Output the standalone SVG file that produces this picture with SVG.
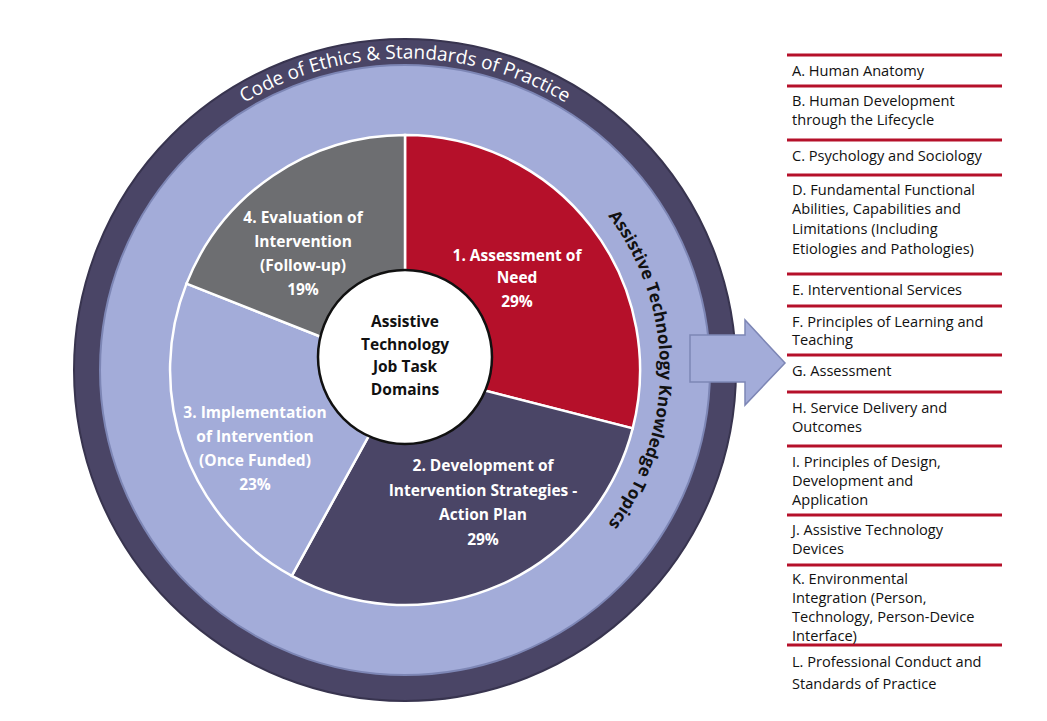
<svg xmlns="http://www.w3.org/2000/svg" width="1047" height="721" viewBox="0 0 1047 721">
<style>
.pt{font-family:"Open Sans","Liberation Sans",sans-serif;font-weight:bold;font-size:15.5px;fill:#fff;text-anchor:middle}
.ls{font-family:"Open Sans","Liberation Sans",sans-serif;font-size:14.6px;fill:#111}
.rl{stroke:#b5102a;stroke-width:3}
</style>
<defs>
<path id="arcTop" d="M 226 626 A 312 312 0 1 1 584 626"/>
<path id="arcRight" d="M 405 115 A 255 255 0 0 1 405 625"/>
</defs>
<rect width="1047" height="721" fill="#fff"/>
<g id="rings">
<circle cx="405" cy="370" r="331" fill="#4a4566" stroke="#38344f" stroke-width="2"/>
<circle cx="405" cy="370" r="305" fill="#a3acd9" stroke="#7d86b5" stroke-width="2"/>
<text font-family="'Open Sans','Liberation Sans',sans-serif" font-size="19" fill="#fff"><textPath href="#arcTop" startOffset="50%" text-anchor="middle">Code of Ethics &amp; Standards of Practice</textPath></text>
<text font-family="'Open Sans','Liberation Sans',sans-serif" font-size="17" font-weight="bold" fill="#111"><textPath href="#arcRight" startOffset="50%" text-anchor="middle">Assistive Technology Knowledge Topics</textPath></text>
</g>
<g id="arrow"><polygon points="690,335 745,335 745,320 785,363 745,405 745,382 690,382" fill="#a3acd9" stroke="#7d86b5" stroke-width="1.5"/></g>
<g id="pie" stroke="#fff" stroke-width="2.5">
<path d="M405,370 L405,135 A235,235 0 0 1 632.7,428.4 Z" fill="#b5102a"/>
<path d="M405,370 L632.7,428.4 A235,235 0 0 1 291.8,575.9 Z" fill="#4a4566"/>
<path d="M405,370 L291.8,575.9 A235,235 0 0 1 186.5,283.6 Z" fill="#a3acd9"/>
<path d="M405,370 L186.5,283.6 A235,235 0 0 1 405,135 Z" fill="#6d6e71"/>
</g>
<g id="labels">
<text class="pt"><tspan x="517" y="261">1. Assessment of</tspan><tspan x="517" y="283">Need</tspan><tspan x="517" y="307">29%</tspan></text>
<text class="pt"><tspan x="483" y="471">2. Development of</tspan><tspan x="483" y="496">Intervention Strategies -</tspan><tspan x="483" y="520">Action Plan</tspan><tspan x="483" y="545">29%</tspan></text>
<text class="pt"><tspan x="255" y="418">3. Implementation</tspan><tspan x="255" y="442">of Intervention</tspan><tspan x="255" y="466">(Once Funded)</tspan><tspan x="255" y="490">23%</tspan></text>
<text class="pt"><tspan x="303" y="223">4. Evaluation of</tspan><tspan x="303" y="247">Intervention</tspan><tspan x="303" y="271">(Follow-up)</tspan><tspan x="303" y="295">19%</tspan></text>
</g>
<g id="center">
<circle cx="405" cy="357" r="87" fill="#fff" stroke="#111" stroke-width="2.5"/>
<text class="pt" style="fill:#111"><tspan x="405" y="327">Assistive</tspan><tspan x="405" y="350">Technology</tspan><tspan x="405" y="372">Job Task</tspan><tspan x="405" y="395">Domains</tspan></text>
</g>
<g id="list">
<line class="rl" x1="787" y1="55" x2="1002" y2="55"/>
<line class="rl" x1="787" y1="86" x2="1002" y2="86"/>
<line class="rl" x1="787" y1="140" x2="1002" y2="140"/>
<line class="rl" x1="787" y1="175" x2="1002" y2="175"/>
<line class="rl" x1="787" y1="274" x2="1002" y2="274"/>
<line class="rl" x1="787" y1="306" x2="1002" y2="306"/>
<line class="rl" x1="787" y1="355" x2="1002" y2="355"/>
<line class="rl" x1="787" y1="392" x2="1002" y2="392"/>
<line class="rl" x1="787" y1="446" x2="1002" y2="446"/>
<line class="rl" x1="787" y1="515" x2="1002" y2="515"/>
<line class="rl" x1="787" y1="565" x2="1002" y2="565"/>
<line class="rl" x1="787" y1="645" x2="1002" y2="645"/>
<text class="ls"><tspan x="792" y="76">A. Human Anatomy</tspan></text>
<text class="ls"><tspan x="792" y="106">B. Human Development</tspan><tspan x="792" y="125">through the Lifecycle</tspan></text>
<text class="ls"><tspan x="792" y="161">C. Psychology and Sociology</tspan></text>
<text class="ls"><tspan x="792" y="195">D. Fundamental Functional</tspan><tspan x="792" y="214">Abilities, Capabilities and</tspan><tspan x="792" y="234">Limitations (Including</tspan><tspan x="792" y="254">Etiologies and Pathologies)</tspan></text>
<text class="ls"><tspan x="792" y="295">E. Interventional Services</tspan></text>
<text class="ls"><tspan x="792" y="327">F. Principles of Learning and</tspan><tspan x="792" y="345">Teaching</tspan></text>
<text class="ls"><tspan x="792" y="376">G. Assessment</tspan></text>
<text class="ls"><tspan x="792" y="413">H. Service Delivery and</tspan><tspan x="792" y="432">Outcomes</tspan></text>
<text class="ls"><tspan x="792" y="467">I. Principles of Design,</tspan><tspan x="792" y="486">Development and</tspan><tspan x="792" y="505">Application</tspan></text>
<text class="ls"><tspan x="792" y="535">J. Assistive Technology</tspan><tspan x="792" y="554">Devices</tspan></text>
<text class="ls"><tspan x="792" y="584">K. Environmental</tspan><tspan x="792" y="603">Integration (Person,</tspan><tspan x="792" y="622">Technology, Person-Device</tspan><tspan x="792" y="641">Interface)</tspan></text>
<text class="ls"><tspan x="792" y="667">L. Professional Conduct and</tspan><tspan x="792" y="689">Standards of Practice</tspan></text>
</g>
</svg>
